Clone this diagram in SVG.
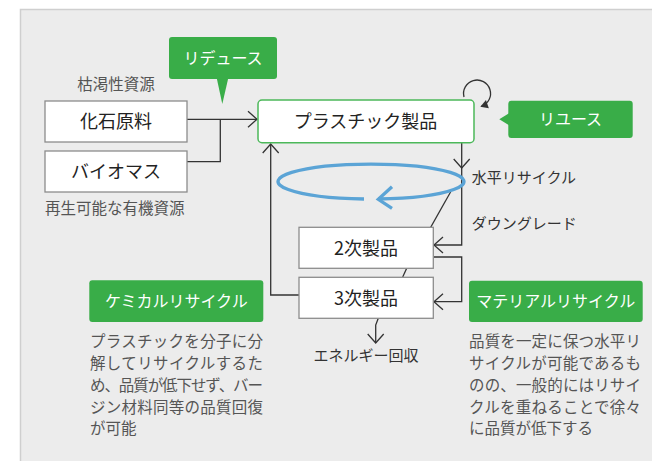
<svg xmlns="http://www.w3.org/2000/svg" width="652" height="461" viewBox="0 0 652 461">
<style>
text{font-family:"Noto Sans CJK JP","Noto Sans",sans-serif;}
.box{fill:#fff;stroke:#8c8c8c;stroke-width:1.3;}
.pbox{fill:#fff;stroke:#4cb85a;stroke-width:1.5;}
.lbl{font-size:18px;fill:#222;text-anchor:middle;}
.green{fill:#39ad48;}
.gt{font-size:16px;fill:#fff;text-anchor:middle;}
.note{font-size:15.5px;fill:#555;}
.dark{font-size:15px;fill:#333;}
.conn{fill:none;stroke:#333;stroke-width:1.3;}
</style>
<defs>
<marker id="chev" markerUnits="userSpaceOnUse" markerWidth="20" markerHeight="20" viewBox="-10 -10 20 20" refX="0" refY="0" orient="auto" overflow="visible">
<path d="M-9,-8 L0,0 L-9,8" fill="none" stroke="#333" stroke-width="1.3"/>
</marker>
<marker id="tri" markerUnits="userSpaceOnUse" markerWidth="10" markerHeight="10" viewBox="-6 -4 8 8" refX="0" refY="0" orient="auto" overflow="visible">
<path d="M-5,-3.5 L1,0 L-5,3.5 Z" fill="#333"/>
</marker>
</defs>
<rect x="0" y="0" width="652" height="461" fill="#fff"/>
<rect x="20.5" y="9.5" width="640" height="460" fill="#ececec" stroke="#cfcfcf" stroke-width="1.5"/>

<g id="connectors">
<path class="conn" d="M187,119.3 H257" marker-end="url(#chev)"/>
<path class="conn" d="M187,161.7 H220.3 V119.3"/>
<path class="conn" d="M299,295 H270.7 V144" marker-end="url(#chev)"/>
<path class="conn" d="M461.7,143 V168" marker-end="url(#chev)"/>
<path class="conn" d="M461.7,168 V245 H434" marker-end="url(#chev)"/>
<path class="conn" d="M434,257 H461.7 V301.7 H434" marker-end="url(#chev)"/>
<path class="conn" d="M450.7,191.7 L430.7,227.3" stroke-width="1"/>
<path class="conn" d="M406.7,268.3 L402.7,277" stroke-width="1"/>
<path class="conn" d="M378.3,318.3 L375.7,325 V343" marker-end="url(#chev)"/>
<path class="conn" d="M464,97 A13.5,13.5 0 1 1 481.5,106.3" stroke-width="1.2" marker-end="url(#tri)"/>
</g>

<g id="cycle">
<path d="M364,199 A93,17.5 0 1 1 378,199" fill="none" stroke="#5ba4d6" stroke-width="3.3"/>
<polyline points="392,186.7 378.3,199.3 392,208.3" fill="none" stroke="#5ba4d6" stroke-width="3.3"/>
</g>

<g id="fossil">
<rect class="box" x="45" y="101" width="142" height="41"/>
<text class="lbl" x="116" y="128">化石原料</text>
</g>
<g id="biomass">
<rect class="box" x="45" y="151" width="142" height="41"/>
<text class="lbl" x="116" y="178">バイオマス</text>
</g>
<text class="note" x="116" y="89.5" text-anchor="middle">枯渇性資源</text>
<text class="note" x="45" y="213.5">再生可能な有機資源</text>

<g id="plastic">
<rect class="pbox" x="258" y="100" width="216" height="42.7" rx="4"/>
<text class="lbl" x="365.5" y="128">プラスチック製品</text>
</g>
<g id="second">
<rect class="box" x="299" y="227.3" width="134.3" height="41"/>
<text class="lbl" x="366" y="254.5">2次製品</text>
</g>
<g id="third">
<rect class="box" x="299" y="277.3" width="134.3" height="41"/>
<text class="lbl" x="366" y="304.5">3次製品</text>
</g>

<text class="dark" x="471.7" y="182.5">水平リサイクル</text>
<text class="dark" x="471.7" y="229">ダウングレード</text>
<text class="dark" x="366" y="361" text-anchor="middle">エネルギー回収</text>

<g id="reduce">
<rect class="green" x="169" y="37" width="108" height="42" rx="3"/>
<polygon class="green" points="216.7,78 228.3,78 222.3,104"/>
<text class="gt" x="223" y="64">リデュース</text>
</g>
<g id="reuse">
<rect class="green" x="508.3" y="100.7" width="124.4" height="37.3" rx="3"/>
<polygon class="green" points="509,113.3 509,125.3 499.3,119.3"/>
<text class="gt" x="570.5" y="125">リユース</text>
</g>
<g id="chemical">
<rect class="green" x="89.3" y="280.3" width="174" height="41.7" rx="3"/>
<text class="gt" x="176.3" y="307">ケミカルリサイクル</text>
<text class="note" x="90" y="347" textLength="173" lengthAdjust="spacing">プラスチックを分子に分</text>
<text class="note" x="90" y="369" textLength="173" lengthAdjust="spacing">解してリサイクルするた</text>
<text class="note" x="90" y="391" textLength="173" lengthAdjust="spacing">め、品質が低下せず、バー</text>
<text class="note" x="90" y="412.5" textLength="173" lengthAdjust="spacing">ジン材料同等の品質回復</text>
<text class="note" x="90" y="434">が可能</text>
</g>
<g id="material">
<rect class="green" x="469" y="280.7" width="173.7" height="41.3" rx="3"/>
<text class="gt" x="555.8" y="307.3">マテリアルリサイクル</text>
<text class="note" x="469" y="347" textLength="172" lengthAdjust="spacing">品質を一定に保つ水平リ</text>
<text class="note" x="469" y="369" textLength="172" lengthAdjust="spacing">サイクルが可能であるも</text>
<text class="note" x="469" y="391" textLength="172" lengthAdjust="spacing">のの、一般的にはリサイ</text>
<text class="note" x="469" y="412.5" textLength="172" lengthAdjust="spacing">クルを重ねることで徐々</text>
<text class="note" x="469" y="434">に品質が低下する</text>
</g>
</svg>
